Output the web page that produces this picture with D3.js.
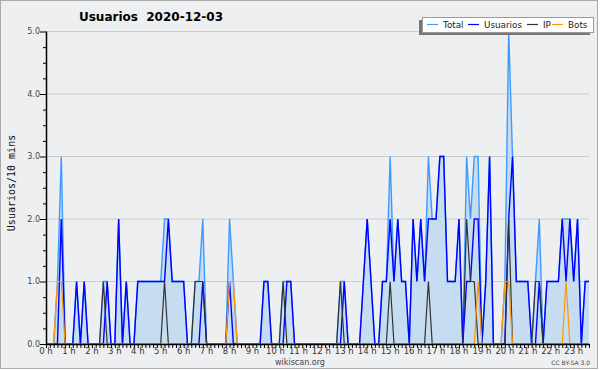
<!DOCTYPE html>
<html>
<head>
<meta charset="utf-8">
<script src="https://cdn.jsdelivr.net/npm/d3@7"></script>
<style>
  body { margin: 0; background: #fff; }
  svg { display: block; }
</style>
</head>
<body>
<div id="chart"></div>
<script>
// 10-minute slots, 0 h .. 23 h 40
const hourLabels = d3.range(24).map(h => h + " h");
const yTicks = [0, 1, 2, 3, 4, 5];

const total = [
  0,0,0,1,3,0,0,0,1,0, 1,0,0,0,0,1,1,0,0,2, 0,1,0,0,1,1,1,1,1,1,
  1,2,2,1,1,1,1,0,0,1, 1,2,0,0,0,0,0,0,2,1, 0,0,0,0,0,0,0,1,1,0,
  0,0,1,1,1,0,0,0,0,0, 0,0,0,0,0,0,0,1,1,0, 0,0,0,1,2,1,0,0,1,1,
  3,1,2,1,1,0,2,1,2,1, 3,2,2,3,3,1,1,1,2,0, 3,2,3,3,0,1,3,0,0,0,
  1,5,3,1,1,1,1,0,1,2, 0,1,1,1,1,2,2,2,1,2, 0,1,1
];
const usuarios = [
  0,0,0,0,2,0,0,0,1,0, 1,0,0,0,0,0,1,0,0,2, 0,1,0,0,1,1,1,1,1,1,
  1,1,2,1,1,1,1,0,0,0, 0,1,0,0,0,0,0,0,1,0, 0,0,0,0,0,0,0,1,1,0,
  0,0,0,1,1,0,0,0,0,0, 0,0,0,0,0,0,0,0,1,0, 0,0,0,1,2,1,0,0,1,1,
  2,1,2,1,1,0,2,1,2,1, 2,2,2,3,3,1,1,1,2,0, 1,1,2,2,0,1,3,0,0,0,
  0,2,3,1,1,1,1,0,0,1, 0,1,1,1,1,2,1,2,1,2, 0,1,1
];
const ip = [
  0,0,0,0,0,0,0,0,0,0, 0,0,0,0,0,1,0,0,0,0, 0,0,0,0,0,0,0,0,0,0,
  0,1,0,0,0,0,0,0,0,1, 1,1,0,0,0,0,0,0,0,0, 0,0,0,0,0,0,0,0,0,0,
  0,0,1,0,0,0,0,0,0,0, 0,0,0,0,0,0,0,1,0,0, 0,0,0,0,0,0,0,0,0,0,
  1,0,0,0,0,0,0,0,0,0, 1,0,0,0,0,0,0,0,0,0, 2,1,1,0,0,0,0,0,0,0,
  0,2,0,0,0,0,0,0,1,1, 0,0,0,0,0,0,0,0,0,0, 0,0,0
];
const bots = [
  0,0,0,1,1,0,0,0,0,0, 0,0,0,0,0,0,0,0,0,0, 0,0,0,0,0,0,0,0,0,0,
  0,0,0,0,0,0,0,0,0,0, 0,0,0,0,0,0,0,0,1,1, 0,0,0,0,0,0,0,0,0,0,
  0,0,0,0,0,0,0,0,0,0, 0,0,0,0,0,0,0,0,0,0, 0,0,0,0,0,0,0,0,0,0,
  0,0,0,0,0,0,0,0,0,0, 0,0,0,0,0,0,0,0,0,0, 0,0,0,1,0,0,0,0,0,0,
  1,1,0,0,0,0,0,0,0,0, 0,0,0,0,0,0,1,0,0,0, 0,0,0
];

const width = 600, height = 370;
const plotLeft = 46, plotRight = 589, plotTop = 31.5, plotBottom = 344;
const font = "'DejaVu Sans', sans-serif";

const svg = d3.select("#chart").append("svg")
  .attr("width", width)
  .attr("height", height);

// background + frame
svg.append("rect")
  .attr("x", 0.5).attr("y", 0.5)
  .attr("width", width - 3).attr("height", height - 2)
  .attr("fill", "#eeeff1")
  .attr("stroke", "#aaa");

const x = d3.scaleLinear().domain([0, total.length - 1]).range([plotLeft, plotRight]);
const y = d3.scaleLinear().domain([0, 5]).range([plotBottom, plotTop]);

// horizontal grid
svg.append("g")
  .selectAll("line")
  .data(yTicks.slice(1))
  .join("line")
  .attr("x1", plotLeft).attr("x2", plotRight)
  .attr("y1", d => y(d)).attr("y2", d => y(d))
  .attr("stroke", "#cccccc");

const idx = d3.range(total.length);

// Total area + line
svg.append("path")
  .datum(idx)
  .attr("d", d3.area().x(i => x(i)).y0(plotBottom).y1(i => y(total[i])))
  .attr("fill", "#c6dcf0");

const line = arr => d3.line().x(i => x(i)).y(i => y(arr[i]));

svg.append("path").datum(idx).attr("d", line(total))
  .attr("fill", "none").attr("stroke", "#3d9bff").attr("stroke-width", 1.4);
svg.append("path").datum(idx).attr("d", line(usuarios))
  .attr("fill", "none").attr("stroke", "#0000ff").attr("stroke-width", 1.4);
svg.append("path").datum(idx).attr("d", line(ip))
  .attr("fill", "none").attr("stroke", "#333333").attr("stroke-width", 1.2);
svg.append("path").datum(idx).attr("d", line(bots))
  .attr("fill", "none").attr("stroke", "#ff9900").attr("stroke-width", 1.2);

// Y axis
const yAxis = svg.append("g")
  .attr("transform", `translate(${plotLeft},0)`)
  .call(d3.axisLeft(y).tickValues(d3.range(0, 5.01, 0.25)).tickSize(3).tickFormat(""));
yAxis.select(".domain").remove();
yAxis.selectAll("line").attr("stroke", "#000");
yAxis.selectAll(".tick").filter(d => Number.isInteger(d)).select("line").attr("x2", -6);
svg.append("line")
  .attr("x1", plotLeft + 0.5).attr("x2", plotLeft + 0.5)
  .attr("y1", plotTop).attr("y2", plotBottom + 0.5)
  .attr("stroke", "#000").attr("stroke-width", 1.5);

svg.append("g")
  .selectAll("text")
  .data(yTicks)
  .join("text")
  .attr("x", plotLeft - 6)
  .attr("y", d => y(d))
  .attr("dy", "0.35em")
  .attr("text-anchor", "end")
  .attr("font-family", font)
  .attr("font-size", 8)
  .attr("fill", "#444")
  .text(d => d.toFixed(1));

// X axis
const xAxis = svg.append("g")
  .attr("transform", `translate(0,${plotBottom})`)
  .call(d3.axisBottom(x).tickValues(idx).tickSize(4).tickFormat(""));
xAxis.select(".domain").remove();
xAxis.selectAll("line").attr("stroke", "#000");
svg.append("line")
  .attr("x1", plotLeft).attr("x2", plotRight + 0.5)
  .attr("y1", plotBottom + 0.5).attr("y2", plotBottom + 0.5)
  .attr("stroke", "#000").attr("stroke-width", 1.5);

svg.append("g")
  .selectAll("text")
  .data(hourLabels)
  .join("text")
  .attr("x", (d, h) => x(h * 6))
  .attr("y", plotBottom + 10)
  .attr("text-anchor", "middle")
  .attr("font-family", font)
  .attr("font-size", 8.5)
  .attr("fill", "#333")
  .text(d => d);

// Titles
svg.append("text")
  .attr("x", 151).attr("y", 21)
  .attr("text-anchor", "middle")
  .attr("font-family", font)
  .attr("font-weight", "bold")
  .attr("font-size", 12)
  .style("white-space", "pre")
  .text("Usuarios  2020-12-03");

svg.append("text")
  .attr("transform", "translate(15,183) rotate(-90)")
  .attr("text-anchor", "middle")
  .attr("font-family", "'DejaVu Sans Mono', monospace")
  .attr("font-size", 10)
  .attr("fill", "#111")
  .text("Usuarios/10 mins");

svg.append("text")
  .attr("x", 300).attr("y", 365)
  .attr("text-anchor", "middle")
  .attr("font-family", font)
  .attr("font-size", 8)
  .attr("fill", "#444")
  .text("wikiscan.org");

svg.append("text")
  .attr("x", 590).attr("y", 365)
  .attr("text-anchor", "end")
  .attr("font-family", font)
  .attr("font-size", 6)
  .attr("fill", "#444")
  .text("CC BY-SA 3.0");

// Legend
const legendItems = ["Total", "Usuarios", "IP", "Bots"];
const legendColors = ["#3d9bff", "#0000ff", "#333333", "#ff9900"];
const legendX = [427, 468, 527, 552];
const lg = svg.append("g");
lg.append("rect")
  .attr("x", 419).attr("y", 20).attr("width", 171).attr("height", 15)
  .attr("fill", "#777");
lg.append("rect")
  .attr("x", 422.5).attr("y", 17.5).attr("width", 171).attr("height", 15)
  .attr("fill", "#fff").attr("stroke", "#999");
legendItems.forEach((name, k) => {
  lg.append("line")
    .attr("x1", legendX[k]).attr("x2", legendX[k] + 11)
    .attr("y1", 24.5).attr("y2", 24.5)
    .attr("stroke", legendColors[k]).attr("stroke-width", 1.2);
  lg.append("text")
    .attr("x", legendX[k] + 16).attr("y", 28)
    .attr("font-family", font)
    .attr("font-size", 8.8)
    .attr("fill", "#222")
    .text(name);
});
</script>
</body>
</html>
